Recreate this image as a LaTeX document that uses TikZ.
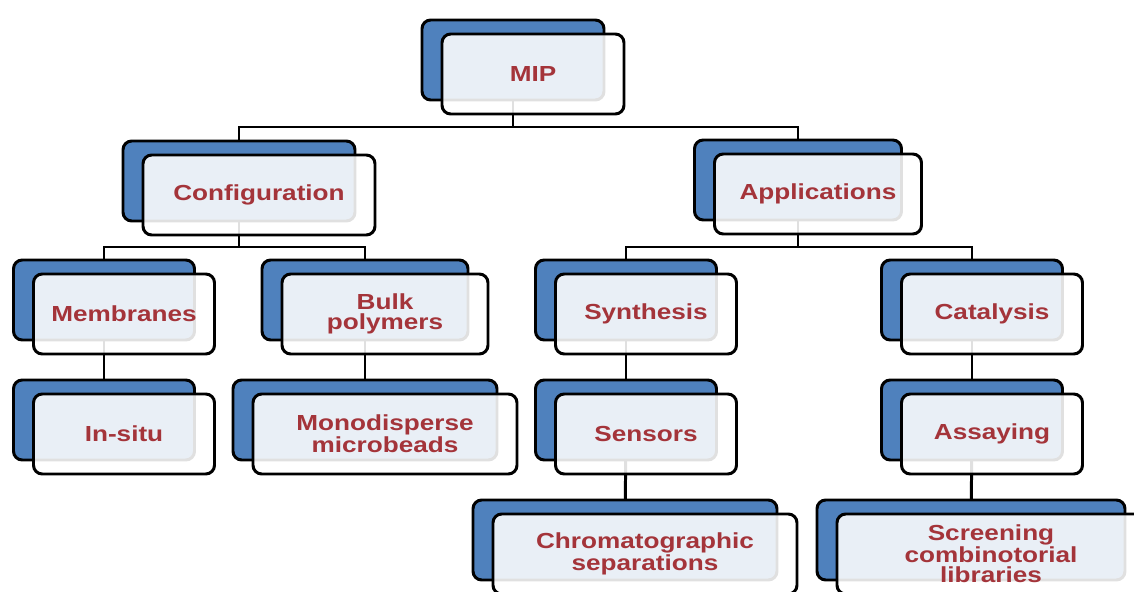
\documentclass[tikz,border=0pt]{standalone}
\usepackage{fontspec}
\setmainfont{Liberation Sans}[FakeStretch=1.2]
\usepackage{xcolor}
\usepackage{tikz}
\usetikzlibrary{calc}
\pgfdeclarelayer{bg}
\pgfsetlayers{bg,main}
\definecolor{boxblue}{RGB}{79,129,189}
\definecolor{labelred}{RGB}{164,52,58}

\begin{document}
\begin{tikzpicture}[x=0.02cm,y=-0.02cm,
	back/.style={shape=rectangle,draw=black,line width=1.7pt,fill=boxblue,rounded corners=5pt,
		inner sep=0pt,minimum height=80*0.02cm,minimum width=#1*0.02cm},
	front/.style={shape=rectangle,draw=black,line width=1.7pt,fill=white,fill opacity=0.88,text opacity=1,
		rounded corners=5pt,inner sep=0pt,minimum height=80*0.02cm,minimum width=#1*0.02cm,
		align=center,text=labelred,font=\fontsize{12.4}{11.4}\selectfont\bfseries},
	link/.style={draw=black,line width=1.7pt}]
		\useasboundingbox (0,0) rectangle (1134,592);

		% shadow boxes
		\node[back=182] (MIPb) at (513,60) {};
		\node[back=232] (Confb) at (239,181) {};
		\node[back=207] (Appb) at (798,180) {};
		\node[back=181] (Memb) at (104,300) {};
		\node[back=181] (Insb) at (104,420) {};
		\node[back=206] (Bulkb) at (365,300) {};
		\node[back=264] (Monob) at (365,420) {};
		\node[back=181] (Synb) at (626,300) {};
		\node[back=181] (Senb) at (626,420) {};
		\node[back=181] (Catb) at (972,300) {};
		\node[back=181] (Assb) at (972,420) {};
		\node[back=304] (Chromb) at (625,540) {};
		\node[back=308] (Screenb) at (971,540) {};

		% labelled boxes
		\node[front=182] (MIP) at ($(MIPb)+(20,14)$) {MIP};
		\node[front=232] (Conf) at ($(Confb)+(20,14)$) {Configuration};
		\node[front=207] (App) at ($(Appb)+(20,14)$) {Applications};
		\node[front=181] (Mem) at ($(Memb)+(20,14)$) {Membranes};
		\node[front=181] (Ins) at ($(Insb)+(20,14)$) {In-situ};
		\node[front=206] (Bulk) at ($(Bulkb)+(20,14)$) {Bulk\\polymers};
		\node[front=264] (Mono) at ($(Monob)+(20,14)$) {Monodisperse\\microbeads};
		\node[front=181] (Syn) at ($(Synb)+(20,14)$) {Synthesis};
		\node[front=181] (Sen) at ($(Senb)+(20,14)$) {Sensors};
		\node[front=181] (Cat) at ($(Catb)+(20,14)$) {Catalysis};
		\node[front=181] (Ass) at ($(Assb)+(20,14)$) {Assaying};
		\node[front=304] (Chrom) at ($(Chromb)+(20,14)$) {Chromatographic\\separations};
		\node[front=308] (Screen) at ($(Screenb)+(20,14)$) {Screening\\combinotorial\\libraries};

		\coordinate (top) at (0,127);
		\coordinate (mid) at (0,247);

		\begin{pgfonlayer}{bg}
		\path[link] (MIPb.center) -- (MIPb.center |- top) -| (Confb.center);
		\path[link] (MIPb.center |- top) -| (Appb.center);
		\path[link] (Confb.center) -- (Confb.center |- mid) -| (Memb.center);
		\path[link] (Confb.center |- mid) -| (Bulkb.center);
		\path[link] (Appb.center) -- (Appb.center |- mid) -| (Synb.center);
		\path[link] (Appb.center |- mid) -| (Catb.center);
		\path[link] (Memb.center) -- (Insb.center);
		\path[link] (Bulkb.center) -- (Monob.center);
		\path[link] (Synb.center) -- (Senb.center);
		\path[link] (Senb.center) -- (Chromb.center);
		\path[link] (Catb.center) -- (Assb.center);
		\path[link] (Assb.center) -- (Screenb.center);
		\end{pgfonlayer}
\end{tikzpicture}
\end{document}
